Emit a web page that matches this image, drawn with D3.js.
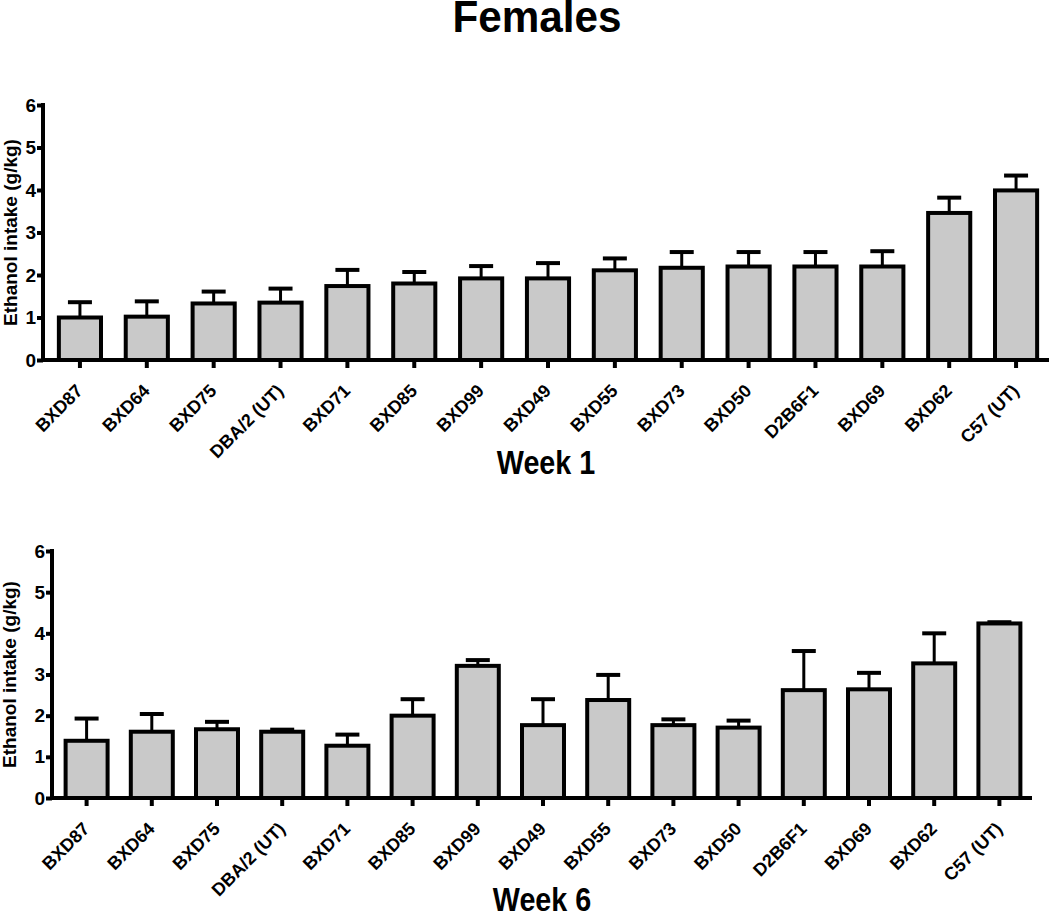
<!DOCTYPE html>
<html>
<head>
<meta charset="utf-8">
<script src="https://cdn.jsdelivr.net/npm/d3@7"></script>
<style>
  body { margin: 0; background: #fff; }
  svg { display: block; font-family: 'Liberation Sans', Arial, sans-serif; }
</style>
</head>
<body>
<div id="chart"></div>
<script>
// 品系
var strains = ['BXD87', 'BXD64', 'BXD75', 'DBA/2 (UT)', 'BXD71', 'BXD85', 'BXD99', 'BXD49',
  'BXD55', 'BXD73', 'BXD50', 'D2B6F1', 'BXD69', 'BXD62', 'C57 (UT)']

// 第1周 均值 / 误差
var week1Mean = [1.00, 1.02, 1.33, 1.35, 1.74, 1.80, 1.92, 1.92, 2.11, 2.17, 2.20, 2.20, 2.20, 3.46, 3.99]
var week1Err = [0.36, 0.36, 0.28, 0.33, 0.38, 0.27, 0.29, 0.36, 0.28, 0.37, 0.34, 0.34, 0.36, 0.36, 0.35]

// 第6周 均值 / 误差
var week6Mean = [1.39, 1.61, 1.67, 1.61, 1.27, 2.00, 3.21, 1.77, 2.38, 1.77, 1.71, 2.62, 2.64, 3.27, 4.24]
var week6Err = [0.54, 0.43, 0.18, 0.05, 0.27, 0.40, 0.14, 0.63, 0.61, 0.14, 0.17, 0.95, 0.40, 0.73, 0.03]

var yTicks = [0, 1, 2, 3, 4, 5, 6]
var yLabel = 'Ethanol intake (g/kg)'

var width = 1050
var height = 914

var svg = d3.select('#chart').append('svg').attr('width', width).attr('height', height)

// 标题(字形略窄)
svg.append('text').text('Females')
  .attr('transform', 'translate(537, 32) scale(0.96, 1)')
  .attr('text-anchor', 'middle')
  .attr('font-size', 44).attr('font-weight', 'bold')

function drawPanel(opt) {
  var data = strains.map(function(name, i) {
    return { name: name, mean: opt.mean[i], err: opt.err[i] }
  })

  var x = d3.scaleBand().domain(strains)
    .range([opt.x0, opt.x1])
    .paddingInner(opt.pad).paddingOuter(opt.pad / 2)

  var y = d3.scaleLinear().domain([0, 6]).range([opt.yBottom, opt.yTop])

  var g = svg.append('g')

  // 柱子
  g.selectAll('rect').data(data).enter().append('rect')
    .attr('x', function(d) { return x(d.name) })
    .attr('y', function(d) { return y(d.mean) })
    .attr('width', x.bandwidth())
    .attr('height', function(d) { return y(0) - y(d.mean) })
    .attr('fill', '#c9c9c9')
    .attr('stroke', '#000')
    .attr('stroke-width', 4)

  // 误差线(只画上半)
  var eb = g.selectAll('.err').data(data).enter().append('g').attr('class', 'err')
  eb.append('line')
    .attr('x1', function(d) { return x(d.name) + x.bandwidth() / 2 })
    .attr('x2', function(d) { return x(d.name) + x.bandwidth() / 2 })
    .attr('y1', function(d) { return y(d.mean) })
    .attr('y2', function(d) { return y(d.mean + d.err) })
    .attr('stroke', '#000').attr('stroke-width', 3)
  eb.append('line')
    .attr('x1', function(d) { return x(d.name) + x.bandwidth() / 2 - 12 })
    .attr('x2', function(d) { return x(d.name) + x.bandwidth() / 2 + 12 })
    .attr('y1', function(d) { return y(d.mean + d.err) })
    .attr('y2', function(d) { return y(d.mean + d.err) })
    .attr('stroke', '#000').attr('stroke-width', 4)

  // y轴
  var axisLeft = d3.axisLeft(y).tickValues(yTicks).tickFormat(d3.format('d'))
    .tickSize(6).tickSizeOuter(0).tickPadding(1)
  var gy = svg.append('g').attr('transform', 'translate(' + opt.axisX + ', 0)').call(axisLeft)
  gy.select('.domain').attr('stroke', '#000').attr('stroke-width', 4)
    .attr('d', 'M0,' + (y(6) - 2) + 'V' + (y(0) + 2))
  gy.selectAll('.tick line').attr('stroke', '#000').attr('stroke-width', 4)
  gy.selectAll('.tick text').attr('fill', '#000')
    .style('font-size', '19px').attr('font-weight', 'bold')
    .attr('font-family', 'Liberation Sans, Arial, sans-serif')

  // x轴
  var axisBottom = d3.axisBottom(x).tickSize(8).tickSizeOuter(0)
  var gx = svg.append('g').attr('transform', 'translate(0, ' + y(0) + ')').call(axisBottom)
  gx.select('.domain').attr('stroke', '#000').attr('stroke-width', 4)
    .attr('d', 'M' + opt.axisX + ',0H' + opt.xEnd)
  gx.selectAll('.tick line').attr('stroke', '#000').attr('stroke-width', 4)
  gx.selectAll('.tick text')
    .attr('fill', '#000')
    .style('font-size', '18px').attr('font-weight', 'bold')
    .attr('font-family', 'Liberation Sans, Arial, sans-serif')
    .attr('text-anchor', 'end')
    .attr('y', 0).attr('dy', 0)
    .attr('transform', 'translate(4, 32) rotate(-45)')

  // y轴标题
  svg.append('text').text(yLabel)
    .attr('transform', 'translate(' + opt.labelX + ', ' + ((y(0) + y(6)) / 2) + ') rotate(-90)')
    .attr('text-anchor', 'middle')
    .attr('font-size', 19).attr('font-weight', 'bold')

  // x轴标题
  svg.append('text').text(opt.title)
    .attr('transform', 'translate(' + ((opt.axisX + opt.xEnd) / 2) + ', ' + opt.titleY + ') scale(0.87, 1)')
    .attr('text-anchor', 'middle')
    .attr('font-size', 33).attr('font-weight', 'bold')
}

drawPanel({
  mean: week1Mean, err: week1Err,
  x0: 46.5, x1: 1049.5, pad: 0.37,
  yTop: 105, yBottom: 360,
  axisX: 43, xEnd: 1049, labelX: 17,
  title: 'Week 1', titleY: 474
})

drawPanel({
  mean: week6Mean, err: week6Err,
  x0: 54, x1: 1032, pad: 0.356,
  yTop: 551, yBottom: 798,
  axisX: 52, xEnd: 1032, labelX: 16,
  title: 'Week 6', titleY: 911
})
</script>
</body>
</html>
